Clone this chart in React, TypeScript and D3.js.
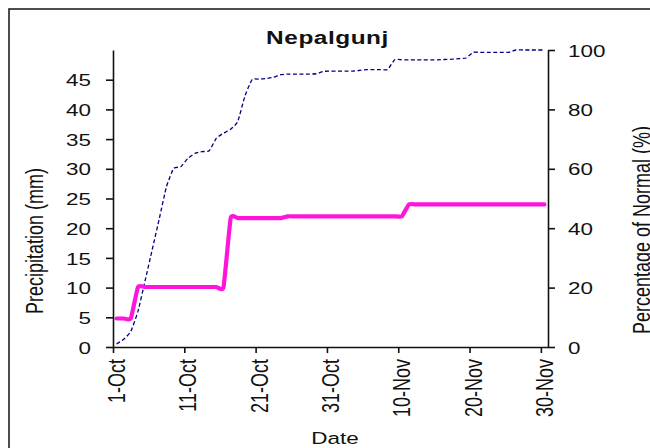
import * as d3 from "d3";
import { useEffect, useRef } from "react";

const chartTitle = "Nepalgunj";
const startDate = new Date(2000, 9, 1);
const endDate = new Date(2000, 11, 1);

// cumulative rainfall, mm, one value per day from 1-Oct to 30-Nov
const precipitation = [
  4.8, 4.8, 4.8,
  10.1, 10.1, 10.1, 10.1, 10.1, 10.1, 10.1, 10.1, 10.1, 10.1, 10.1, 10.1, 10.1,
  21.7, 21.7, 21.7, 21.7, 21.7, 21.7, 21.7, 21.7,
  22.0, 22.0, 22.0, 22.0, 22.0, 22.0, 22.0, 22.0, 22.0, 22.0, 22.0, 22.0, 22.0, 22.0, 22.0, 22.0, 22.0,
  24.0, 24.0, 24.0, 24.0, 24.0, 24.0, 24.0, 24.0, 24.0, 24.0, 24.0, 24.0, 24.0, 24.0, 24.0, 24.0, 24.0, 24.0, 24.0, 24.0,
];

// cumulative normal, % of the season's normal
const percentNormal = [
  1.0, 2.6, 5.3, 12.0, 22.3, 32.8, 43.3, 54.0, 60.1, 60.7,
  63.5, 65.2, 65.8, 66.1, 70.3, 72.0, 73.3, 76.0, 84.5, 90.0,
  90.2, 90.4, 90.8, 91.7, 91.9, 91.9, 91.9, 91.9, 92.0, 92.8,
  92.9, 92.9, 92.9, 92.9, 93.1, 93.4, 93.4, 93.4, 93.4, 96.7,
  96.7, 96.7, 96.7, 96.7, 96.7, 96.7, 96.8, 96.9, 97.1, 97.3,
  99.2, 99.2, 99.2, 99.2, 99.2, 99.2, 100, 100, 100, 100, 100,
];

const precipTicks = [0, 5, 10, 15, 20, 25, 30, 35, 40, 45];
const percentTicks = [0, 20, 40, 60, 80, 100];

const font = "'Liberation Sans', Arial, sans-serif";
const stretch = 1.32; // the original picture is a bit wider than tall

function App() {
  const width = 650;
  const height = 448;
  const margin = { top: 50, right: 102, bottom: 101, left: 113 };
  const boundsWidth = width - margin.left - margin.right;
  const boundsHeight = height - margin.top - margin.bottom;

  const xAxisRef = useRef(null);
  const leftAxisRef = useRef(null);
  const rightAxisRef = useRef(null);

  const days = d3.timeDay.range(startDate, endDate);
  const dateTicks = d3.timeDay.range(startDate, endDate, 10);

  const xScale = d3.scaleTime().domain([startDate, endDate]).range([0, boundsWidth]);
  const yLeft = d3.scaleLinear().domain([0, 50]).range([boundsHeight, 0]);
  const yRight = d3.scaleLinear().domain([0, 100]).range([boundsHeight, 0]);

  // points sit in the middle of each day
  const xOf = (i: number) => xScale(d3.timeHour.offset(days[i], 12));

  const precipLine = d3
    .line<number>()
    .x((_, i) => xOf(i))
    .y((d) => yLeft(d))
    .curve(d3.curveCardinal.tension(0.6));

  const normalLine = d3
    .line<number>()
    .x((_, i) => xOf(i))
    .y((d) => yRight(d))
    .curve(d3.curveCardinal.tension(0.5));

  useEffect(() => {
    const styleAxis = (g: any) => {
      g.select(".domain").attr("stroke", "#111").attr("stroke-width", 1.6);
      g.selectAll(".tick line").attr("stroke", "#111").attr("stroke-width", 1.6);
      g.selectAll("text")
        .attr("font-family", font)
        .attr("font-size", 17)
        .attr("fill", "#111");
    };

    const gx = d3.select(xAxisRef.current);
    gx.selectAll("*").remove();
    gx.call(
      d3
        .axisBottom(xScale)
        .tickValues(dateTicks)
        .tickFormat(d3.timeFormat("%-d-%b") as any)
        .tickSize(6)
        .tickSizeOuter(0)
    );
    styleAxis(gx);
    gx.selectAll("text")
      .attr("x", 0)
      .attr("y", 0)
      .attr("dy", 0)
      .attr("font-size", 18)
      .attr("text-anchor", "end")
      .attr("transform", `translate(11.5,12) rotate(-90) scale(1,${stretch})`);

    const gl = d3.select(leftAxisRef.current);
    gl.selectAll("*").remove();
    gl.call(d3.axisLeft(yLeft).tickValues(precipTicks).tickSize(7).tickSizeOuter(0));
    styleAxis(gl);
    gl.selectAll("text")
      .attr("x", 0)
      .attr("dy", "0.36em")
      .attr("text-anchor", "end")
      .attr("transform", `translate(-22,0) scale(${stretch},1)`);

    const gr = d3.select(rightAxisRef.current);
    gr.selectAll("*").remove();
    gr.call(d3.axisRight(yRight).tickValues(percentTicks).tickSize(7).tickSizeOuter(0));
    styleAxis(gr);
    gr.selectAll("text")
      .attr("x", 0)
      .attr("dy", "0.36em")
      .attr("text-anchor", "start")
      .attr("transform", `translate(20,0) scale(${stretch},1)`);
  }, []);

  return (
    <svg
      width={width}
      height={height}
      style={{ position: "absolute", left: 0, top: 0, background: "#fff" }}
    >
      <rect x={9} y={9} width={700} height={500} fill="none" stroke="#222" strokeWidth={1.6} />

      <text
        transform={`translate(327.5,43.5) scale(${stretch},1)`}
        textAnchor="middle"
        fontFamily={font}
        fontWeight="bold"
        fontSize={18.5}
        letterSpacing={0.4}
        fill="#111"
      >
        {chartTitle}
      </text>

      <g transform={`translate(${margin.left},${margin.top})`}>
        <path
          d={normalLine(percentNormal) || ""}
          fill="none"
          stroke="#000080"
          strokeWidth={1.3}
          strokeDasharray="4,2.5"
        />
        <path
          d={precipLine(precipitation) || ""}
          fill="none"
          stroke="#ff14dc"
          strokeWidth={4.2}
          strokeLinecap="round"
          strokeLinejoin="round"
        />
        <g ref={xAxisRef} transform={`translate(0,${boundsHeight})`} />
        <g ref={leftAxisRef} />
        <g ref={rightAxisRef} transform={`translate(${boundsWidth},0)`} />
      </g>

      <text
        transform={`translate(43,241) rotate(-90) scale(1,${stretch})`}
        textAnchor="middle"
        fontFamily={font}
        fontSize={18}
        fill="#111"
      >
        Precipitation (mm)
      </text>
      <text
        transform={`translate(650,230) rotate(-90) scale(1,${stretch})`}
        textAnchor="middle"
        fontFamily={font}
        fontSize={18}
        fill="#111"
      >
        Percentage of Normal (%)
      </text>
      <text
        transform={`translate(335,444) scale(${stretch},1)`}
        textAnchor="middle"
        fontFamily={font}
        fontSize={17}
        fill="#111"
      >
        Date
      </text>
    </svg>
  );
}

export default App;
